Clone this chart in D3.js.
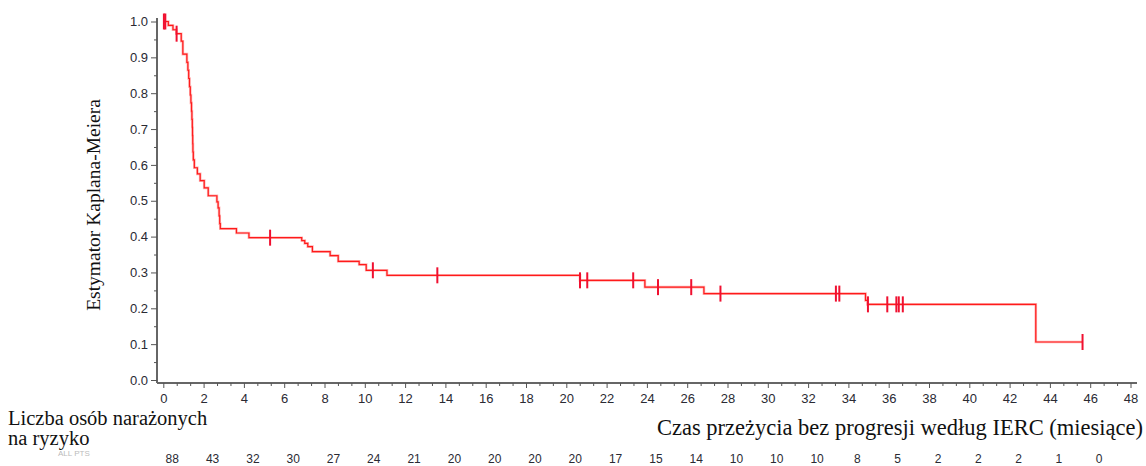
<!DOCTYPE html>
<html>
<head>
<meta charset="utf-8">
<script src="https://cdn.jsdelivr.net/npm/d3@7"></script>
<style>
  body { margin: 0; background: #fff; }
  svg { display: block; }
  .tick text { font-family: "Liberation Sans", Arial, sans-serif; font-size: 13px; fill: #2a2a33; }
  .ser { font-family: "Liberation Serif", "Times New Roman", serif; fill: #111; }
</style>
</head>
<body>
<script>
// KM curve
var stepTimes = [0.25, 0.48, 0.65, 0.89, 0.97, 1.17, 1.22, 1.26, 1.30, 1.34, 1.37, 1.40, 1.42, 1.44, 1.45, 1.46, 1.47, 1.49, 1.54, 1.69, 1.83, 2.03, 2.23, 2.66, 2.72, 2.77, 2.80, 2.83, 3.63, 4.25, 6.87, 7.02, 7.17, 7.40, 8.28, 8.68, 9.72, 10.07, 11.10, 20.68, 23.90, 26.83, 34.85, 34.95, 43.30];
var stepSurv  = [0.989, 0.977, 0.966, 0.945, 0.909, 0.886, 0.864, 0.841, 0.818, 0.795, 0.773, 0.750, 0.727, 0.705, 0.682, 0.659, 0.636, 0.614, 0.592, 0.575, 0.556, 0.536, 0.514, 0.497, 0.480, 0.458, 0.436, 0.422, 0.410, 0.397, 0.389, 0.381, 0.372, 0.358, 0.347, 0.331, 0.322, 0.306, 0.292, 0.278, 0.259, 0.241, 0.222, 0.211, 0.106];
var censorTimes = [0.03, 0.1, 0.66, 5.3, 10.4, 13.6, 20.68, 21.04, 23.32, 24.55, 26.2, 27.65, 33.38, 33.55, 34.97, 35.93, 36.38, 36.5, 36.7, 45.62];
var xTickVals = d3.range(0, 49, 2);
var yTickVals = d3.range(0, 10.5, 1).map(function (d) { return d / 10; });
var atRisk = [88, 43, 32, 30, 27, 24, 21, 20, 20, 20, 20, 17, 15, 14, 10, 10, 10, 8, 5, 2, 2, 2, 1, 0];

var W = 1146, H = 466;
var svg = d3.select("body").append("svg").attr("width", W).attr("height", H);

var x = d3.scaleLinear().domain([0, 48]).range([163.3, 1130.5]);
var y = d3.scaleLinear().domain([0, 1]).range([380, 21.5]);

// axes
var yAxisG = svg.append("g").attr("transform", "translate(157,0)");
yAxisG.call(d3.axisLeft(y).tickValues(yTickVals).tickFormat(d3.format(".1f")).tickSize(6).tickPadding(3).tickSizeOuter(0));
// minor
svg.append("g").attr("transform", "translate(157,0)")
	.call(d3.axisLeft(y).tickValues(d3.range(0.05, 1, 0.1)).tickFormat("").tickSize(3).tickSizeOuter(0))
	.select(".domain").remove();

var xAxisG = svg.append("g").attr("transform", "translate(0,383)");
xAxisG.call(d3.axisBottom(x).tickValues(xTickVals).tickSize(5).tickPadding(6).tickSizeOuter(0));
var minorX = [];
for (var i = 0; i < 72; i++) { if (i % 3) minorX.push(i * 2 / 3); }
svg.append("g").attr("transform", "translate(0,383)")
	.call(d3.axisBottom(x).tickValues(minorX).tickFormat("").tickSize(3).tickSizeOuter(0))
	.select(".domain").remove();

// fix up axis lines a bit
yAxisG.select(".domain").attr("d", "M0,18V383").attr("stroke", "#666").attr("stroke-width", 2);
xAxisG.select(".domain").attr("d", "M157,0H1137").attr("stroke", "#666").attr("stroke-width", 2);
svg.selectAll(".tick line").attr("stroke", "#555");

// curve
var pts = [[0, 1]];
for (var i = 0; i < stepTimes.length; i++) pts.push([stepTimes[i], stepSurv[i]]);
pts.push([censorTimes[censorTimes.length - 1], stepSurv[stepSurv.length - 1]]);

var line = d3.line()
	.x(function (d) { return x(d[0]); })
	.y(function (d) { return y(d[1]); })
	.curve(d3.curveStepAfter);

svg.append("path").datum(pts).attr("d", line)
	.attr("fill", "none").attr("stroke", "#ff8080").attr("stroke-opacity", 0.6).attr("stroke-width", 2.6);
svg.append("path").datum(pts).attr("d", line)
	.attr("fill", "none").attr("stroke", "#ff1a1a").attr("stroke-width", 1.2);

function survAt(t) {
	var s = 1;
	for (var i = 0; i < stepTimes.length; i++) { if (stepTimes[i] <= t) s = stepSurv[i]; }
	return s;
}

svg.selectAll(".cens").data(censorTimes).enter().append("line")
	.attr("class", "cens")
	.attr("x1", function (d) { return x(d); })
	.attr("x2", function (d) { return x(d); })
	.attr("y1", function (d) { return y(survAt(d)) - 8; })
	.attr("y2", function (d) { return y(survAt(d)) + 8; })
	.attr("stroke", "#f01030").attr("stroke-width", 2);

// titles
svg.append("text").attr("class", "ser")
	.attr("transform", "translate(100,205) rotate(-90)")
	.attr("text-anchor", "middle").style("font-size", "19.5px")
	.text("Estymator Kaplana-Meiera");

svg.append("text").attr("class", "ser")
	.attr("x", 1143).attr("y", 435).attr("text-anchor", "end").style("font-size", "22.5px")
	.text("Czas przeżycia bez progresji według IERC (miesiące)");

svg.append("text").attr("class", "ser").attr("x", 8).attr("y", 425).style("font-size", "20.5px")
	.text("Liczba osób narażonych");
svg.append("text").attr("class", "ser").attr("x", 8).attr("y", 445).style("font-size", "20.5px")
	.text("na ryzyko");
svg.append("text").attr("x", 58).attr("y", 456)
	.style("font-family", "Liberation Sans, sans-serif").style("font-size", "8px").style("fill", "#bbb")
	.text("ALL PTS");

// number at risk
svg.selectAll(".risk").data(atRisk).enter().append("text")
	.attr("class", "risk")
	.attr("x", function (d, i) { return x(xTickVals[i]) + 9; })
	.attr("y", 463)
	.attr("text-anchor", "middle")
	.style("font-family", "Liberation Sans, Arial, sans-serif").style("font-size", "12px").style("fill", "#2a2a33")
	.text(function (d) { return d; });
</script>
</body>
</html>
